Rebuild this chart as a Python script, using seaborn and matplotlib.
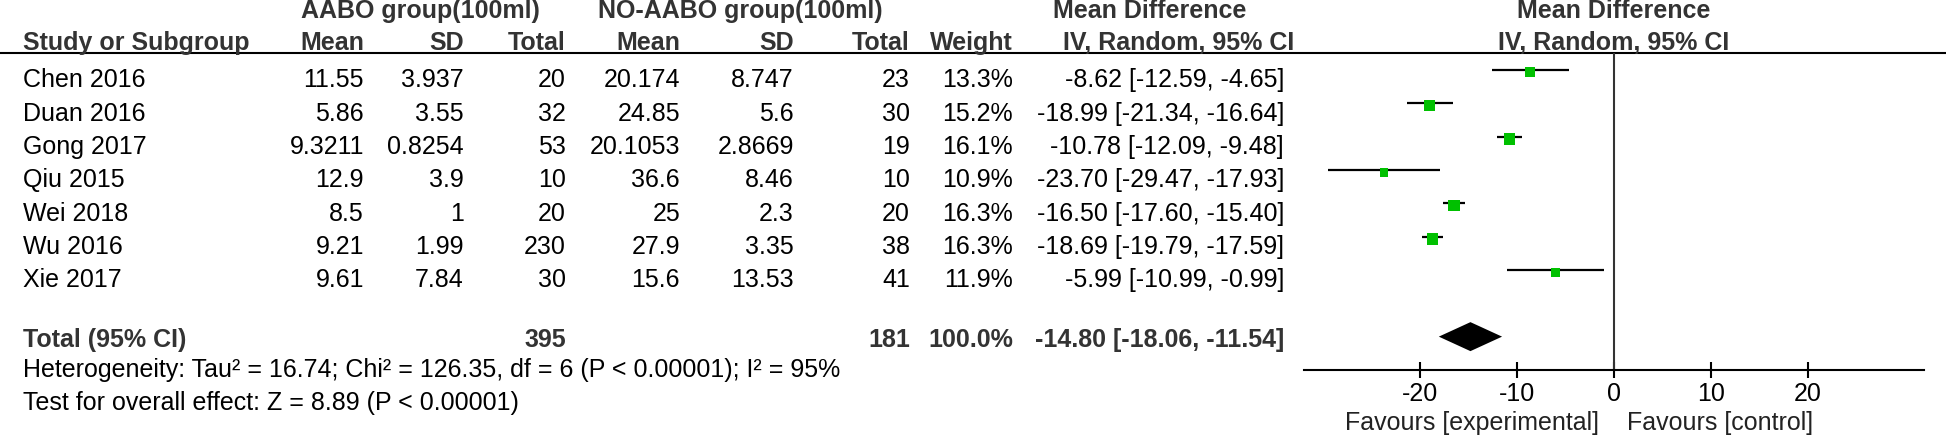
import numpy as np
import pandas as pd
import seaborn as sns
import matplotlib.pyplot as plt

# ---- data ----
studies = ['Chen 2016', 'Duan 2016', 'Gong 2017', 'Qiu 2015', 'Wei 2018', 'Wu 2016', 'Xie 2017']
mean_e = [11.55, 5.86, 9.3211, 12.9, 8.5, 9.21, 9.61]
sd_e = [3.937, 3.55, 0.8254, 3.9, 1, 1.99, 7.84]
n_e = [20, 32, 53, 10, 20, 230, 30]
mean_c = [20.174, 24.85, 20.1053, 36.6, 25, 27.9, 15.6]
sd_c = [8.747, 5.6, 2.8669, 8.46, 2.3, 3.35, 13.53]
n_c = [23, 30, 19, 10, 20, 38, 41]
weight = [13.3, 15.2, 16.1, 10.9, 16.3, 16.3, 11.9]
md = [-8.62, -18.99, -10.78, -23.70, -16.50, -18.69, -5.99]
ci_lo = [-12.59, -21.34, -12.09, -29.47, -17.60, -19.79, -10.99]
ci_hi = [-4.65, -16.64, -9.48, -17.93, -15.40, -17.59, -0.99]

total_n_e, total_n_c, total_weight = 395, 181, 100.0
total_md, total_lo, total_hi = -14.80, -18.06, -11.54
heterogeneity = 'Heterogeneity: Tau\u00b2 = 16.74; Chi\u00b2 = 126.35, df = 6 (P < 0.00001); I\u00b2 = 95%'
overall = 'Test for overall effect: Z = 8.89 (P < 0.00001)'
x_ticks = [-20, -10, 0, 10, 20]

df = pd.DataFrame({'study': studies, 'md': md, 'lo': ci_lo, 'hi': ci_hi, 'weight': weight})
df['row'] = np.arange(len(df))

sns.set_theme(style='white')
plt.rcParams['font.family'] = ['Liberation Sans', 'DejaVu Sans']

W, H = 1946, 440
fig = plt.figure(figsize=(W / 100, H / 100), dpi=100)

# layout: rows are 33.3 px apart, first study row at 70 px from the top
ROW_PX, ROW0_PX = 33.33, 70
row_top = -ROW0_PX / ROW_PX
row_bot = (H - ROW0_PX) / ROW_PX

tab = fig.add_axes([0, 0, 1, 1])
tab.set_xlim(0, W)
tab.set_ylim(row_bot, row_top)
tab.axis('off')

BODY, HEAD = 18, 18
hdr_col = '#333333'
base = 0.52  # text baseline offset below row centre

# column right edges (px)
cols = {'mean_e': 364, 'sd_e': 464, 'n_e': 566, 'mean_c': 680, 'sd_c': 794,
        'n_c': 910, 'weight': 1013, 'ci': 1284}

# header
hrow1, hrow2 = -1.55, -0.6
tab.text(420, hrow1, 'AABO group(100ml)', ha='center', va='baseline', fontsize=HEAD, weight='bold', color=hdr_col)
tab.text(740, hrow1, 'NO-AABO group(100ml)', ha='center', va='baseline', fontsize=HEAD, weight='bold', color=hdr_col)
tab.text(1150, hrow1, 'Mean Difference', ha='center', va='baseline', fontsize=HEAD, weight='bold', color=hdr_col)
tab.text(23, hrow2, 'Study or Subgroup', ha='left', va='baseline', fontsize=HEAD, weight='bold', color=hdr_col)
for key, lab in [('mean_e', 'Mean'), ('sd_e', 'SD'), ('n_e', 'Total'), ('mean_c', 'Mean'),
                 ('sd_c', 'SD'), ('n_c', 'Total'), ('weight', 'Weight')]:
    tab.text(cols[key], hrow2, lab, ha='right', va='baseline', fontsize=HEAD, weight='bold', color=hdr_col)
tab.text(1179, hrow2, 'IV, Random, 95% CI', ha='center', va='baseline', fontsize=HEAD, weight='bold', color=hdr_col)
tab.hlines(-0.51, 0, W, color='black', lw=1.5)

# study rows
for i in range(len(studies)):
    y = i + base
    tab.text(23, y, studies[i], ha='left', va='baseline', fontsize=BODY, color='black')
    vals = {'mean_e': str(mean_e[i]), 'sd_e': str(sd_e[i]), 'n_e': str(n_e[i]),
            'mean_c': str(mean_c[i]), 'sd_c': str(sd_c[i]), 'n_c': str(n_c[i]),
            'weight': f'{weight[i]:.1f}%',
            'ci': f'{md[i]:.2f} [{ci_lo[i]:.2f}, {ci_hi[i]:.2f}]'}
    for key, txt in vals.items():
        tab.text(cols[key], y, txt, ha='right', va='baseline', fontsize=BODY, color='black')

# total row
ty = 8 + 0.3
tab.text(23, ty, 'Total (95% CI)', ha='left', va='baseline', fontsize=HEAD, weight='bold', color=hdr_col)
tab.text(cols['n_e'], ty, str(total_n_e), ha='right', va='baseline', fontsize=HEAD, weight='bold', color=hdr_col)
tab.text(cols['n_c'], ty, str(total_n_c), ha='right', va='baseline', fontsize=HEAD, weight='bold', color=hdr_col)
tab.text(cols['weight'], ty, f'{total_weight:.1f}%', ha='right', va='baseline', fontsize=HEAD, weight='bold', color=hdr_col)
tab.text(cols['ci'], ty, f'{total_md:.2f} [{total_lo:.2f}, {total_hi:.2f}]', ha='right', va='baseline',
         fontsize=HEAD, weight='bold', color=hdr_col)
tab.text(23, 9.2, heterogeneity, ha='left', va='baseline', fontsize=BODY, color='black')
tab.text(23, 10.2, overall, ha='left', va='baseline', fontsize=BODY, color='black')

# ---- forest panel ----
px_per_unit = 9.7
x0_px = 1614
xlim = (-32, 32)
left_px = x0_px + xlim[0] * px_per_unit
axis_px, top_px = 370, 53
fp = fig.add_axes([left_px / W, (H - axis_px) / H, (xlim[1] - xlim[0]) * px_per_unit / W, (axis_px - top_px) / H])
fp.patch.set_alpha(0)
fp.set_xlim(*xlim)
fp.set_ylim((axis_px - ROW0_PX) / ROW_PX, (top_px - ROW0_PX) / ROW_PX)

fp.axvline(0, color='#333333', lw=1.5)
fp.hlines(df['row'], df['lo'], df['hi'], color='black', lw=1.6)
sns.scatterplot(data=df.assign(row=df['row'] + 0.07), x='md', y='row', size='weight',
                sizes=((8.6 * 0.72) ** 2, (11.4 * 0.72) ** 2), marker='s', color='#00c000',
                edgecolor='none', linewidth=0, legend=False, ax=fp, zorder=3)
fp.fill([total_lo, total_md, total_hi, total_md], [8, 8 - 0.435, 8, 8 + 0.435], color='black', lw=0)

for s in ['top', 'left', 'right']:
    fp.spines[s].set_visible(False)
fp.spines['bottom'].set_color('black')
fp.spines['bottom'].set_linewidth(1.5)
fp.set_yticks([])
fp.set_xticks(x_ticks)
fp.set_xticklabels([str(t) for t in x_ticks])
fp.tick_params(axis='x', direction='inout', length=11.5, width=1.5, color='black',
               labelsize=BODY, labelcolor='black', pad=3, bottom=True)
fp.set_xlabel('')
fp.set_ylabel('')

fp.text(0, -1.55, 'Mean Difference', ha='center', va='baseline', fontsize=HEAD, weight='bold', color=hdr_col)
fp.text(0, -0.6, 'IV, Random, 95% CI', ha='center', va='baseline', fontsize=HEAD, weight='bold', color=hdr_col)
fp.text(-1.5, 10.8, 'Favours [experimental]', ha='right', va='baseline', fontsize=BODY, color='#222222')
fp.text(1.3, 10.8, 'Favours [control]', ha='left', va='baseline', fontsize=BODY, color='#222222')

fig.savefig('out.png', dpi=100)
